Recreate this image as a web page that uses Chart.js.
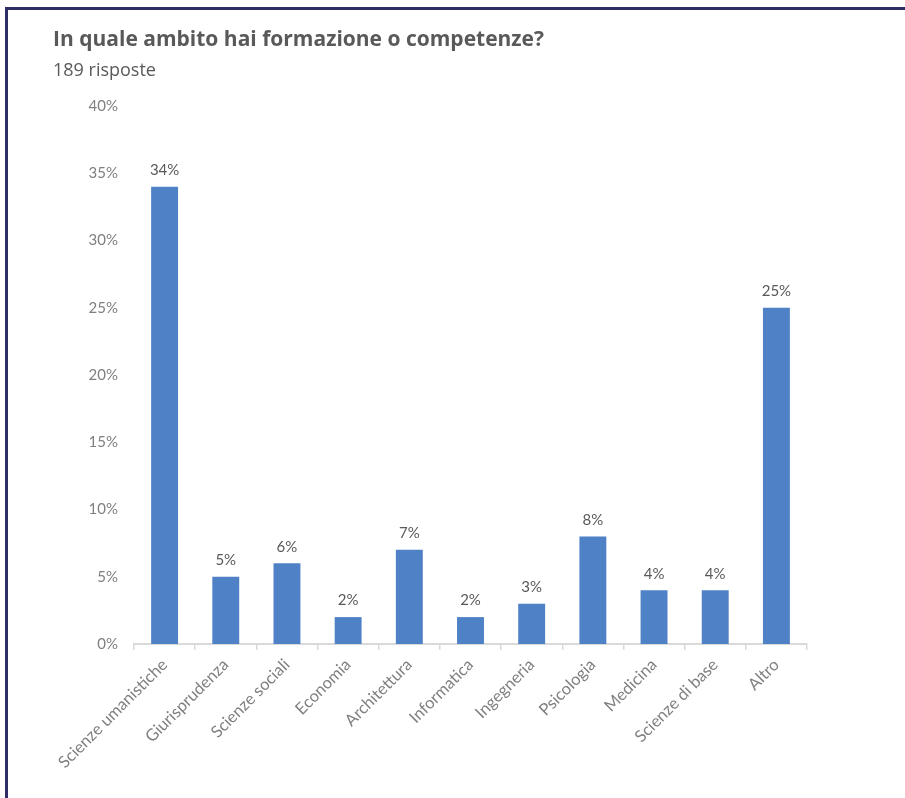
<!DOCTYPE html>
<html lang="it">
<head>
  <meta charset="UTF-8">
  <title>In quale ambito hai formazione o competenze?</title>
  <script src="https://cdn.jsdelivr.net/npm/chart.js"></script>
  <style>
    html, body { margin: 0; padding: 0; background: #fff; overflow: hidden; }
    body { width: 905px; height: 798px; position: relative; font-family: Lato, sans-serif; }
    .frame { position: absolute; left: 5px; top: 7px; width: 920px; height: 820px;
             border-left: 3px solid #2f2d66; border-top: 3px solid #2f2d66; }
    .title { position: absolute; left: 53px; top: 24px; line-height: 28px; font-family: "Open Sans", sans-serif;
             font-size: 21px; font-weight: bold; color: #595959; }
    .subtitle { position: absolute; left: 53px; top: 57px; line-height: 25px; font-family: "Open Sans", sans-serif;
                font-size: 18px; color: #595959; }
    .wrap { position: absolute; left: 0; top: 0; width: 905px; height: 798px; }
  </style>
</head>
<body>
  <div class="frame"></div>
  <div class="wrap"><canvas id="ambitoChart"></canvas></div>
  <div class="title">In quale ambito hai formazione o competenze?</div>
  <div class="subtitle">189 risposte</div>

  <script>
    const categories = ["Scienze umanistiche", "Giurisprudenza", "Scienze sociali", "Economia",
      "Architettura", "Informatica", "Ingegneria", "Psicologia", "Medicina", "Scienze di base", "Altro"];
    const shares = [34, 5, 6, 2, 7, 2, 3, 8, 4, 4, 25];
    const yTicks = [0, 5, 10, 15, 20, 25, 30, 35, 40];

    // value labels on top of the bars
    const valueLabels = {
      id: 'valueLabels',
      afterDatasetsDraw(chart) {
        const ctx = chart.ctx;
        const meta = chart.getDatasetMeta(0);
        ctx.save();
        ctx.font = '15px Lato';
        ctx.fillStyle = '#595959';
        ctx.textAlign = 'center';
        ctx.textBaseline = 'bottom';
        meta.data.forEach((bar, i) => {
          ctx.fillText(shares[i] + '%', bar.x, bar.y - 9);
        });
        ctx.restore();
      }
    };

    new Chart(document.getElementById("ambitoChart"), {
      type: 'bar',
      data: {
        labels: categories,
        datasets: [{
          data: shares,
          backgroundColor: '#4f81c6',
          barPercentage: 0.44,
          categoryPercentage: 1
        }]
      },
      options: {
        responsive: true,
        maintainAspectRatio: false,
        animation: false,
        layout: { padding: { left: 74, right: 98, top: 106, bottom: 14 } },
        plugins: { legend: { display: false }, tooltip: { enabled: false } },
        scales: {
          y: {
            min: 0, max: 40,
            afterFit: s => { s.width = 60; },
            afterBuildTicks: s => { s.ticks = yTicks.map(v => ({ value: v })); },
            grid: { display: false, drawTicks: false },
            border: { display: false },
            ticks: {
              padding: 16,
              color: '#7f7f7f',
              font: { family: 'Lato', size: 15 },
              callback: v => v + '%'
            }
          },
          x: {
            afterFit: s => { s.height = 140; },
            grid: { display: true, drawOnChartArea: false, drawTicks: true, tickLength: 6,
                    color: '#d9d9d9', lineWidth: 1.5 },
            border: { display: true, color: '#d9d9d9', width: 2 },
            ticks: {
              minRotation: 45, maxRotation: 45,
              padding: 5,
              color: '#7f7f7f',
              font: { family: 'Lato', size: 16.5 }
            }
          }
        }
      },
      plugins: [valueLabels]
    });
  </script>
</body>
</html>
